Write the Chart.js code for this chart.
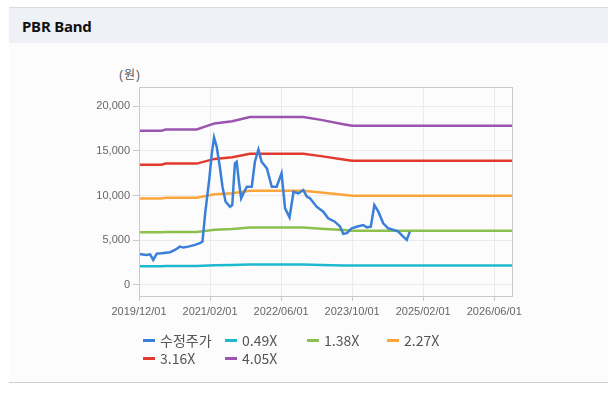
<!DOCTYPE html>
<html>
<head>
<meta charset="utf-8">
<script src="https://cdn.jsdelivr.net/npm/chart.js@4"></script>
<style>
    html, body { margin: 0; padding: 0; background: #fff; }
    body { width: 615px; height: 400px; position: relative; overflow: hidden; font-family: "Liberation Sans", Arial, sans-serif; }
    .panel { position: absolute; left: 9px; top: 7px; width: 599px; height: 374px; background: #fcfcfc; border-top: 1px solid #dcdcdc; border-bottom: 1px solid #cfcfcf; }
    .panel-head { position: absolute; left: 0; top: 0; width: 100%; height: 35px; background: #eef2f7; }
    .panel-head h3 { margin: 0; position: absolute; left: 13px; top: 8px; font: bold 15px "Noto Sans", "Open Sans", sans-serif; color: #111; letter-spacing: -0.2px; }
    .unit { position: absolute; left: 119px; top: 65px; font-size: 12px; color: #555; font-family: "Noto Sans CJK KR", sans-serif; letter-spacing: 1px; }
    .unit span { font-family: "Liberation Sans", Arial, sans-serif; }
    #chart-box { position: absolute; left: 0; top: 0; width: 615px; height: 400px; }
    .legend { position: absolute; left: 143px; top: 331px; width: 340px; font-size: 14px; color: #555; font-family: "Noto Sans CJK KR", "Liberation Sans", sans-serif; }
    .legend .item { position: absolute; display: flex; align-items: center; height: 18px; white-space: nowrap; }
    .legend .mark { display: inline-block; width: 12px; height: 3px; margin-right: 5px; }
</style>
</head>
<body>
<div class="panel">
    <div class="panel-head"><h3>PBR Band</h3></div>
</div>
<div class="unit"><span>(</span>원<span>)</span></div>
<div id="chart-box"><canvas id="pbr-chart"></canvas></div>
<div class="legend" id="legend"></div>

<script>
// x positions are months counted from 2019/12/01
const xTickMonths = [0, 16, 32, 48, 64, 80];
const xTickLabels = ['2019/12/01', '2021/02/01', '2022/06/01', '2023/10/01', '2025/02/01', '2026/06/01'];
const yTicks = [0, 5000, 10000, 15000, 20000];

// 수정주가 (adjusted price)
const priceMonths = [0, 1.7, 2.5, 3.2, 4.0, 5.1, 7.0, 8.1, 9.2, 10.0, 11.1, 12.6, 13.7, 14.3, 14.9, 15.8, 16.4, 16.9, 17.5, 18.2,
    18.8, 19.5, 20.5, 21.0, 21.6, 22.0, 22.5, 23.0, 23.5, 24.3, 25.4, 26.1, 26.9, 27.6, 28.8, 29.9, 31.0, 32.1, 32.9, 33.9,
    34.8, 35.9, 37.0, 37.8, 38.5, 40.0, 41.5, 42.6, 44.1, 45.3, 46.0, 46.8, 47.9, 49.0, 50.5, 51.3, 52.2, 53.0, 53.9, 55.0,
    56.1, 57.3, 58.4, 59.5, 60.3, 61.0];
const priceValues = [3460, 3350, 3420, 2790, 3500, 3540, 3650, 3910, 4280, 4170, 4280, 4470, 4660, 4840, 8010, 11730, 14710, 16500, 15450, 13220,
    10980, 9300, 8750, 8940, 13600, 13780, 11550, 9690, 10240, 10980, 10980, 13780, 15160, 13780, 13040, 10980, 10980, 12480, 8570, 7560,
    10420, 10240, 10610, 9870, 9690, 8750, 8190, 7450, 7070, 6510, 5700, 5780, 6330, 6510, 6700, 6440, 6510, 8940, 8190, 6890,
    6330, 6150, 5960, 5400, 5030, 5960];

// PBR band lines
const bandMonths = [0, 5, 6, 13, 17, 21, 25, 37, 41, 46, 48, 84];
const band049 = [2086, 2086, 2105, 2105, 2186, 2215, 2275, 2275, 2234, 2177, 2154, 2154];
const band138 = [5875, 5875, 5928, 5928, 6158, 6238, 6406, 6406, 6293, 6130, 6065, 6065];
const band227 = [9663, 9663, 9752, 9752, 10129, 10260, 10537, 10537, 10351, 10083, 9977, 9977];
const band316 = [13452, 13452, 13575, 13575, 14100, 14283, 14669, 14669, 14410, 14037, 13888, 13888];
const band405 = [17241, 17241, 17399, 17399, 18071, 18306, 18800, 18800, 18468, 17990, 17800, 17800];

function toPoints(xs, ys) {
    return xs.map((x, i) => ({ x: x, y: ys[i] }));
}

function lineSet(label, xs, ys, color) {
    return {
        label: label,
        data: toPoints(xs, ys),
        borderColor: color,
        backgroundColor: color,
        borderWidth: 2.5,
        pointRadius: 0,
        tension: 0,
        fill: false
    };
}

const datasets = [
    lineSet('수정주가', priceMonths, priceValues, '#3a7fd8'),
    lineSet('0.49X', bandMonths, band049, '#1fb9cf'),
    lineSet('1.38X', bandMonths, band138, '#8cc04d'),
    lineSet('2.27X', bandMonths, band227, '#fba53a'),
    lineSet('3.16X', bandMonths, band316, '#e23a2e'),
    lineSet('4.05X', bandMonths, band405, '#9b55b0')
];

// box around the plot area (top / right edges included)
const frame = {
    id: 'frame',
    afterDraw(chart) {
        const a = chart.chartArea;
        const ctx = chart.ctx;
        ctx.save();
        ctx.strokeStyle = '#c9c9c9';
        ctx.lineWidth = 1;
        ctx.strokeRect(Math.round(a.left) + 0.5, Math.round(a.top) + 0.5, Math.round(a.right - a.left), Math.round(a.bottom - a.top));
        ctx.restore();
    }
};

new Chart(document.getElementById('pbr-chart'), {
    type: 'line',
    data: { datasets: datasets },
    options: {
        responsive: true,
        maintainAspectRatio: false,
        animation: false,
        layout: { padding: { left: 70, top: 87, right: 103, bottom: 80 } },
        plugins: {
            legend: { display: false },
            tooltip: { enabled: false }
        },
        scales: {
            x: {
                type: 'linear',
                min: 0,
                max: 84,
                afterBuildTicks: s => { s.ticks = xTickMonths.map(v => ({ value: v })); },
                afterFit: s => { s.height = 24; },
                ticks: {
                    autoSkip: false,
                    maxRotation: 0,
                    padding: 4,
                    color: '#666',
                    font: { size: 11, family: '"Liberation Sans", Arial' },
                    callback: v => xTickLabels[xTickMonths.indexOf(v)]
                },
                grid: { color: '#ebebeb', tickLength: 5, tickColor: '#c9c9c9' },
                border: { color: '#c9c9c9' }
            },
            y: {
                min: -1250,
                max: 22150,
                afterBuildTicks: s => { s.ticks = yTicks.map(v => ({ value: v })); },
                afterFit: s => { s.width = 69; },
                ticks: {
                    padding: 3,
                    color: '#666',
                    font: { size: 11, family: '"Liberation Sans", Arial' },
                    callback: v => v.toLocaleString('en-US')
                },
                grid: { color: '#ebebeb', tickLength: 6, tickColor: '#c9c9c9' },
                border: { color: '#c9c9c9' }
            }
        }
    },
    plugins: [frame]
});

// grid-style legend under the chart
const legendCols = [0, 82, 164, 244];
const legendBox = document.getElementById('legend');
datasets.forEach((ds, i) => {
    const item = document.createElement('div');
    item.className = 'item';
    item.style.left = legendCols[i % 4] + 'px';
    item.style.top = (Math.floor(i / 4) * 18) + 'px';
    item.innerHTML = `<span class="mark" style="background:${ds.borderColor}"></span>${ds.label}`;
    legendBox.appendChild(item);
});
</script>
</body>
</html>
